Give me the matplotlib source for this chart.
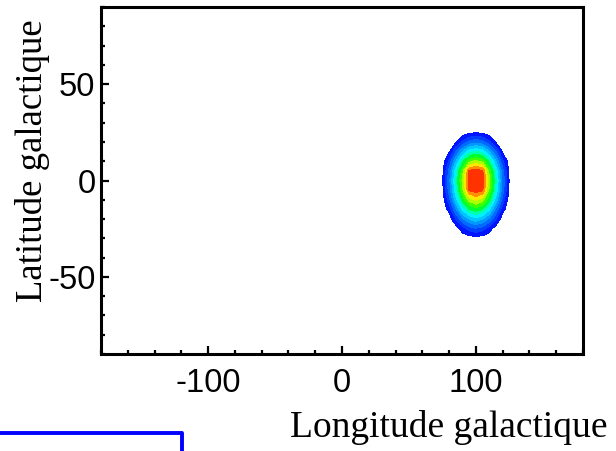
import numpy as np
import matplotlib
matplotlib.use('Agg')
import matplotlib.pyplot as plt
from matplotlib.colors import LinearSegmentedColormap
from matplotlib.lines import Line2D
from matplotlib.ticker import MultipleLocator

plt.rcParams['axes.unicode_minus'] = False

# grid of the source map (degrees)
longitude = [70, 75, 80, 85, 90, 95, 100, 105, 110, 115, 120, 125, 130]
latitude = [30, 25, 20, 15, 10, 5, 0, -5, -10, -15, -20, -25, -30, -35]

# intensity, one row per latitude
intensity = [
    [0, 0, 0, 0, 0, 0, 0, 0, 0, 0, 0, 0, 0],
    [0, 0, 0, 0, 0, 2, 3, 2, 0, 0, 0, 0, 0],
    [0, 0, 0, 3, 12, 20, 23, 20, 12, 3, 0, 0, 0],
    [0, 0, 3, 18, 33, 45, 49, 45, 33, 18, 3, 0, 0],
    [0, 0, 12, 33, 53, 67, 72, 67, 53, 33, 12, 0, 0],
    [0, 2, 20, 45, 67, 93, 96, 93, 67, 45, 20, 2, 0],
    [0, 3, 23, 49, 72, 95, 100, 95, 72, 49, 23, 3, 0],
    [0, 2, 21, 46, 68, 93, 96, 93, 68, 46, 21, 2, 0],
    [0, 0, 15, 37, 58, 73, 79, 73, 58, 37, 15, 0, 0],
    [0, 0, 6, 24, 42, 55, 59, 55, 42, 24, 6, 0, 0],
    [0, 0, 0, 11, 24, 33, 38, 33, 24, 11, 0, 0, 0],
    [0, 0, 0, 0, 7, 14, 17, 14, 7, 0, 0, 0, 0],
    [0, 0, 0, 0, 0, 0, 1, 0, 0, 0, 0, 0, 0],
    [0, 0, 0, 0, 0, 0, 0, 0, 0, 0, 0, 0, 0],
]

levels = [4, 11, 18, 26, 33, 41, 48, 55, 63, 70, 78, 85, 92, 101]

rainbow = LinearSegmentedColormap.from_list(
    'rainbow_blue',
    [(0.0, '#0000ff'), (0.44, '#00ffff'), (0.6, '#00ff00'), (0.78, '#ffff00'), (1.0, '#ff0000')])

fig = plt.figure(figsize=(6.16, 4.51), dpi=100)
ax = fig.add_axes([0.164, 0.215, 0.7825, 0.7695])

ax.contourf(longitude, latitude, np.array(intensity), levels=levels, cmap=rainbow)

ax.set_xlim(-180, 180)
ax.set_ylim(-90, 90)
ax.set_xticks([-100, 0, 100])
ax.set_yticks([-50, 0, 50])
ax.xaxis.set_minor_locator(MultipleLocator(20))
ax.yaxis.set_minor_locator(MultipleLocator(10))

for side in ax.spines.values():
    side.set_linewidth(2.2)

ax.tick_params(which='both', direction='in', top=False, right=False, width=1.6)
ax.tick_params(which='major', length=6)
ax.tick_params(which='minor', length=3)
ax.tick_params(axis='x', which='major', pad=10)
ax.tick_params(axis='y', which='major', pad=4)
for lab in ax.get_xticklabels() + ax.get_yticklabels():
    lab.set_fontfamily('Liberation Sans')
    lab.set_fontsize(23.5)

# axis titles sit off-centre in the original
fig.text(0.987, 0.031, 'Longitude galactique', ha='right', va='baseline',
         fontfamily='Liberation Serif', fontsize=27)
fig.text(0.053, 0.643, 'Latitude galactique', rotation=90, ha='center', va='center',
         fontfamily='Liberation Serif', fontsize=26.5)

# blue frame corner of the next panel, cut by the page edge
fig.add_artist(Line2D([0, 0.2955, 0.2955], [0.04, 0.04, -0.05],
                      transform=fig.transFigure, color='#0000ff', linewidth=2.8))

fig.savefig('out.png', dpi=100)
